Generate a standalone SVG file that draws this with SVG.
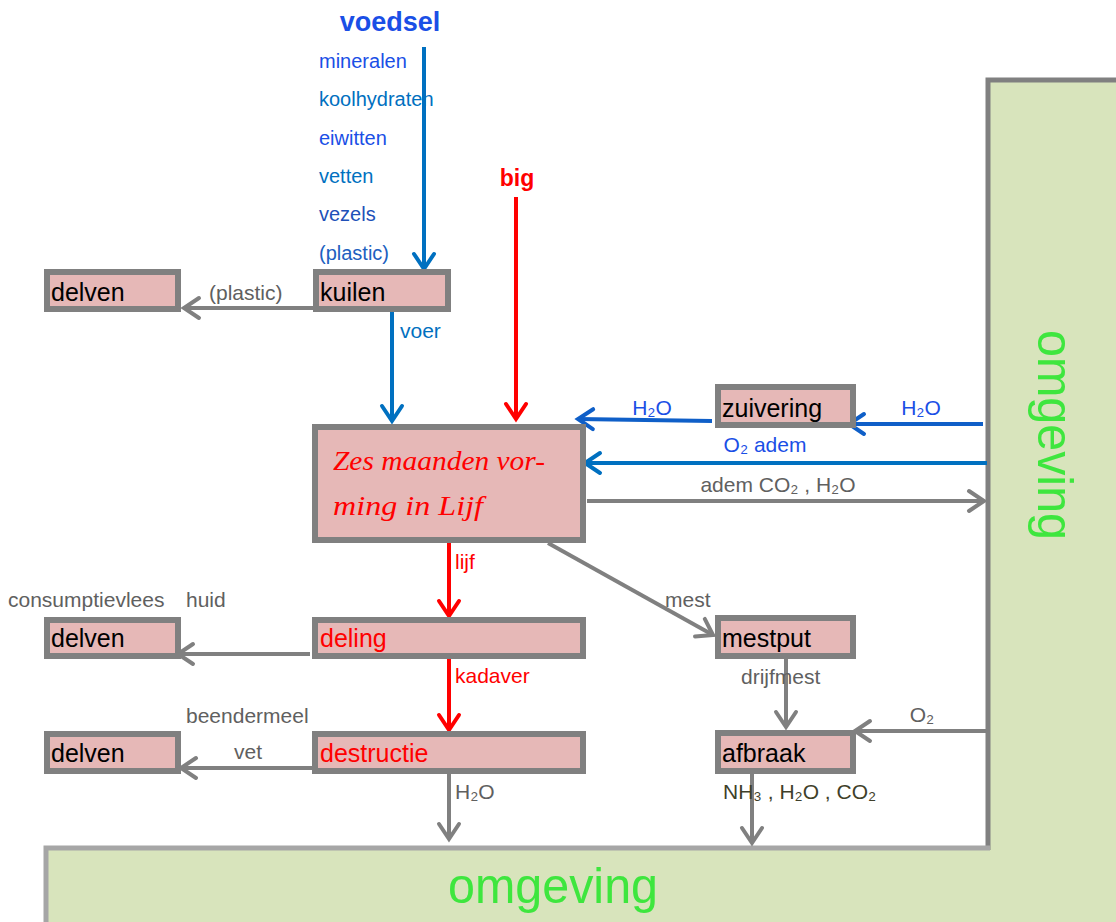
<svg xmlns="http://www.w3.org/2000/svg" width="1116" height="922" viewBox="0 0 1116 922">
<defs>
<style>
.box{fill:#e6b8b7;stroke:#808080;stroke-width:6}
.bt{font-family:"Liberation Sans",Arial,sans-serif;font-size:25px;fill:#000}
.lbl{font-family:"Liberation Sans",Arial,sans-serif;font-size:21px;fill:#606060}
.bl{font-family:"Liberation Sans",Arial,sans-serif;font-size:20px}
.g{stroke:#808080;stroke-width:4;fill:none}
.b{stroke:#0070c0;stroke-width:4;fill:none}
.b2{stroke:#0f5fc8;stroke-width:4;fill:none}
.r{stroke:#ff0000;stroke-width:4;fill:none}
</style>
<marker id="ag" markerUnits="userSpaceOnUse" markerWidth="40" markerHeight="40" viewBox="-20 -20 40 40" refX="0" refY="0" orient="auto"><path d="M-15,-10 L0,0 L-15,10" fill="none" stroke="#808080" stroke-width="4" stroke-linecap="round"/></marker>
<marker id="ab" markerUnits="userSpaceOnUse" markerWidth="40" markerHeight="40" viewBox="-20 -20 40 40" refX="0" refY="0" orient="auto"><path d="M-15,-10 L0,0 L-15,10" fill="none" stroke="#0070c0" stroke-width="4" stroke-linecap="round"/></marker>
<marker id="ab2" markerUnits="userSpaceOnUse" markerWidth="40" markerHeight="40" viewBox="-20 -20 40 40" refX="0" refY="0" orient="auto"><path d="M-15,-10 L0,0 L-15,10" fill="none" stroke="#0f5fc8" stroke-width="4" stroke-linecap="round"/></marker>
<marker id="ar" markerUnits="userSpaceOnUse" markerWidth="40" markerHeight="40" viewBox="-20 -20 40 40" refX="0" refY="0" orient="auto"><path d="M-15,-10 L0,0 L-15,10" fill="none" stroke="#ff0000" stroke-width="4" stroke-linecap="round"/></marker>
</defs>
<rect width="1116" height="922" fill="#fff"/>

<g id="omgeving">
<path d="M988,80 L1120,80 L1120,925 L47,925 L47,848 L988,848 Z" fill="#d8e4bc"/>
<path d="M988,850 L988,80 L1120,80" fill="none" stroke="#808080" stroke-width="5"/>
<path d="M46,925 L46,848 L990,848" fill="none" stroke="#a6a6a6" stroke-width="5"/>
<text x="553" y="903" text-anchor="middle" font-family="'Liberation Sans',Arial,sans-serif" font-size="50" fill="#3ee63e" textLength="210" lengthAdjust="spacingAndGlyphs">omgeving</text>
<text transform="translate(1038,435) rotate(90)" x="0" y="0" text-anchor="middle" font-family="'Liberation Sans',Arial,sans-serif" font-size="50" fill="#3ee63e" textLength="210" lengthAdjust="spacingAndGlyphs">omgeving</text>
</g>

<g id="connectors">
<line class="b" x1="424" y1="47" x2="424" y2="269" marker-end="url(#ab)"/>
<line class="r" x1="516" y1="197" x2="516" y2="419" marker-end="url(#ar)"/>
<line class="g" x1="313" y1="308" x2="184" y2="308" marker-end="url(#ag)"/>
<line class="b" x1="392" y1="312" x2="392" y2="421" marker-end="url(#ab)"/>
<line class="b2" x1="712" y1="421" x2="578" y2="419" marker-end="url(#ab2)"/>
<line class="b2" x1="983" y1="424" x2="849" y2="424" marker-end="url(#ab2)"/>
<line class="b" x1="987" y1="463" x2="585" y2="463" marker-end="url(#ab)"/>
<line class="g" x1="587" y1="501" x2="984" y2="501" marker-end="url(#ag)"/>
<line class="g" x1="548" y1="543" x2="713" y2="635" marker-end="url(#ag)"/>
<line class="r" x1="449" y1="543" x2="449" y2="616" marker-end="url(#ar)"/>
<line class="g" x1="310" y1="654" x2="178" y2="654" marker-end="url(#ag)"/>
<line class="r" x1="449" y1="659" x2="449" y2="730" marker-end="url(#ar)"/>
<line class="g" x1="313" y1="768" x2="181" y2="768" marker-end="url(#ag)"/>
<line class="g" x1="449" y1="774" x2="449" y2="839" marker-end="url(#ag)"/>
<line class="g" x1="786" y1="659" x2="786" y2="727" marker-end="url(#ag)"/>
<line class="g" x1="987" y1="731" x2="855" y2="731" marker-end="url(#ag)"/>
<line class="g" x1="752" y1="774" x2="752" y2="843" marker-end="url(#ag)"/>
</g>

<g id="labels">
<text x="390" y="31" text-anchor="middle" font-family="'Liberation Sans',Arial,sans-serif" font-size="27" font-weight="bold" fill="#1a4fe6">voedsel</text>
<text class="bl" x="319" y="68" style="fill:#1a4fe6">mineralen</text>
<text class="bl" x="319" y="106" style="fill:#0070c0">koolhydraten</text>
<text class="bl" x="319" y="145" style="fill:#1a4fe6">eiwitten</text>
<text class="bl" x="319" y="183" style="fill:#0070c0">vetten</text>
<text class="bl" x="319" y="221" style="fill:#2050b8">vezels</text>
<text class="bl" x="319" y="260" style="fill:#2060c0">(plastic)</text>
<text x="517" y="186" text-anchor="middle" font-family="'Liberation Sans',Arial,sans-serif" font-size="23" font-weight="bold" fill="#ff0000">big</text>
<text class="lbl" x="209" y="300">(plastic)</text>
<text class="lbl" x="400" y="338" style="fill:#0070c0">voer</text>
<text class="lbl" x="652" y="415" text-anchor="middle" style="fill:#1a4fe6">H₂O</text>
<text class="lbl" x="921" y="415" text-anchor="middle" style="fill:#1a4fe6">H₂O</text>
<text class="lbl" x="765" y="452" text-anchor="middle" style="fill:#1a4fe6">O₂ adem</text>
<text class="lbl" x="778" y="492" text-anchor="middle">adem CO₂ , H₂O</text>
<text class="lbl" x="455" y="569" style="fill:#ff0000">lijf</text>
<text class="lbl" x="665" y="607">mest</text>
<text class="lbl" x="8" y="607">consumptievlees<tspan x="186">huid</tspan></text>
<text class="lbl" x="455" y="683" style="fill:#ff0000">kadaver</text>
<text class="lbl" x="741" y="684">drijfmest</text>
<text class="lbl" x="186" y="723">beendermeel</text>
<text class="lbl" x="248" y="759" text-anchor="middle">vet</text>
<text class="lbl" x="922" y="722" text-anchor="middle">O₂</text>
<text class="lbl" x="455" y="799">H₂O</text>
<text class="lbl" x="723" y="799" style="fill:#3f3f2a">NH₃ , H₂O , CO₂</text>
</g>

<g id="delven1"><rect class="box" x="47" y="272" width="131" height="37"/><text class="bt" x="51" y="301">delven</text></g>
<g id="kuilen"><rect class="box" x="316" y="272" width="132" height="37"/><text class="bt" x="320" y="301">kuilen</text></g>
<g id="vorming"><rect class="box" x="315" y="427" width="268" height="113"/>
<text x="333" y="470" font-family="'Liberation Serif','DejaVu Serif',serif" font-style="italic" font-size="27" fill="#ff0000" textLength="212" lengthAdjust="spacingAndGlyphs">Zes maanden vor-</text>
<text x="333" y="515" font-family="'Liberation Serif','DejaVu Serif',serif" font-style="italic" font-size="27" fill="#ff0000" textLength="150" lengthAdjust="spacingAndGlyphs">ming in Lijf</text></g>
<g id="zuivering"><rect class="box" x="718" y="387" width="135" height="38"/><text class="bt" x="722" y="417">zuivering</text></g>
<g id="delven2"><rect class="box" x="47" y="620" width="131" height="36"/><text class="bt" x="51" y="647">delven</text></g>
<g id="deling"><rect class="box" x="315" y="620" width="268" height="36"/><text class="bt" x="320" y="647" style="fill:#ff0000">deling</text></g>
<g id="mestput"><rect class="box" x="718" y="618" width="135" height="38"/><text class="bt" x="722" y="647">mestput</text></g>
<g id="delven3"><rect class="box" x="47" y="734" width="131" height="37"/><text class="bt" x="51" y="762">delven</text></g>
<g id="destructie"><rect class="box" x="315" y="734" width="268" height="37"/><text class="bt" x="320" y="762" style="fill:#ff0000">destructie</text></g>
<g id="afbraak"><rect class="box" x="718" y="733" width="135" height="38"/><text class="bt" x="722" y="762">afbraak</text></g>
</svg>
